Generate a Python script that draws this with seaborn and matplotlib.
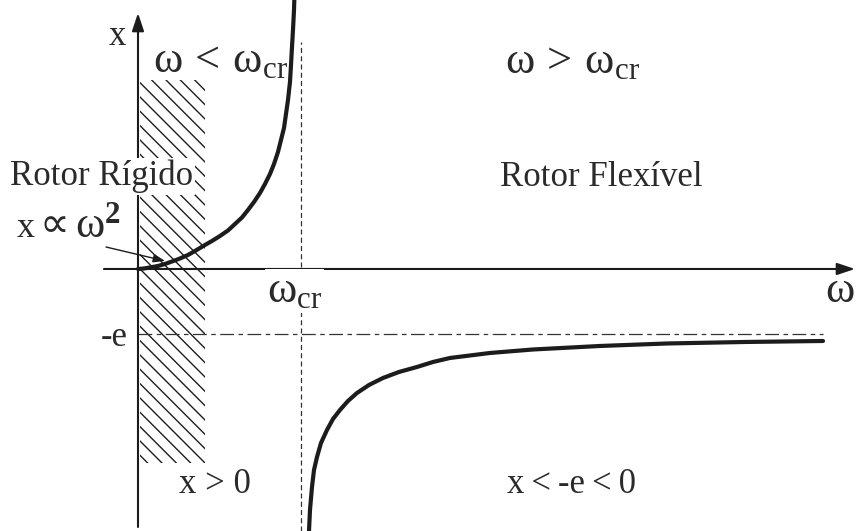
import matplotlib
matplotlib.use("Agg")
import matplotlib.pyplot as plt
import seaborn as sns
from matplotlib.patches import Rectangle

# Rotor response x (in units of e) against speed ratio w / w_cr
w_sub = [0.0, 0.0368, 0.0736, 0.1227, 0.1656, 0.2086, 0.2577, 0.3067,
         0.3497, 0.4110, 0.4540, 0.5031, 0.5521, 0.5951, 0.6380, 0.6748,
         0.7117, 0.7485, 0.7791, 0.8098, 0.8344, 0.8589, 0.8773, 0.8957,
         0.9080, 0.9202, 0.9325, 0.9387, 0.9448, 0.9509, 0.9571, 0.9601]
x_sub = [0.0, 0.0077, 0.0231, 0.0462, 0.0769, 0.1154, 0.1615, 0.2154,
         0.2769, 0.3692, 0.4308, 0.5077, 0.5923, 0.6923, 0.7923, 0.9077,
         1.0308, 1.1692, 1.3077, 1.4615, 1.6154, 1.8000, 1.9846, 2.1692,
         2.3846, 2.6000, 2.8769, 3.1385, 3.4154, 3.6769, 3.9846, 4.2154]

w_super = [1.0460, 1.0491, 1.0552, 1.0675, 1.0798, 1.0982, 1.1227, 1.1595,
           1.1963, 1.2393, 1.2883, 1.3436, 1.4172, 1.5031, 1.6012, 1.7117,
           1.8098, 1.9141, 2.1595, 2.4233, 2.8344, 3.2454, 3.7239, 4.2025]
x_super = [-4.1692, -4.0308, -3.7077, -3.3538, -3.0923, -2.8923, -2.6769,
           -2.4769, -2.3077, -2.1692, -2.0308, -1.9077, -1.7846, -1.6769,
           -1.5846, -1.5077, -1.4308, -1.3692, -1.2923, -1.2385, -1.1846,
           -1.1462, -1.1231, -1.1077]

W_CR = 1.0          # critical speed
E = 1.0             # eccentricity
RIGID_RANGE = (0.012, 0.411)   # speed band shaded as rigid rotor
RIGID_X = (-2.985, 2.908)

DPI = 86
K = 100 / DPI       # keeps sizes in pixels independent of the dpi

sns.set_theme(style="white")
plt.rcParams["font.family"] = ["Liberation Serif", "DejaVu Serif"]
plt.rcParams["mathtext.fontset"] = "custom"
plt.rcParams["mathtext.rm"] = "Liberation Serif"
plt.rcParams["mathtext.it"] = "Liberation Serif"
plt.rcParams["mathtext.bf"] = "Liberation Serif:bold"
plt.rcParams["hatch.linewidth"] = 1.0 * K

INK = "#1c1c1c"
TXT = "#2a2a2a"

fig = plt.figure(figsize=(856 / DPI, 531 / DPI), dpi=DPI)
ax = fig.add_axes([0, 0, 1, 1])
ax.set_xlim(-0.8466, 4.405)
ax.set_ylim(-4.031, 4.138)
ax.axis("off")

# shaded rigid-rotor band
ax.add_patch(Rectangle((RIGID_RANGE[0], RIGID_X[0]),
                       RIGID_RANGE[1] - RIGID_RANGE[0], RIGID_X[1] - RIGID_X[0],
                       fill=False, hatch="\\\\", edgecolor="#1e1e1e",
                       linewidth=0, zorder=1))

# coordinate axes with arrow heads
arrow = dict(arrowstyle="-|>,head_length=0.6,head_width=0.2", lw=1.5 * K,
             color=INK, mutation_scale=18 * K, shrinkA=0, shrinkB=0)
ax.annotate("", xy=(4.399, 0), xytext=(-0.209, 0), arrowprops=arrow, zorder=3)
ax.annotate("", xy=(0, 3.938), xytext=(0, -3.969), arrowprops=arrow, zorder=3)

# critical speed and -e asymptote
ax.axvline(W_CR, ymax=0.921, color="#333333", lw=0.9 * K, ls=(0, (4.0, 2.6)),
           zorder=2)
ax.hlines(-E, 0, w_super[-1], color="#333333", lw=0.9 * K,
          linestyles=[(0, (11, 3.6, 3.6, 3.6))], zorder=2)

# response branches
sns.lineplot(x=w_sub, y=x_sub, ax=ax, color=INK, lw=3.0 * K, sort=False,
             zorder=4, legend=False)
sns.lineplot(x=w_super, y=x_super, ax=ax, color=INK, lw=3.0 * K, sort=False,
             zorder=4, legend=False)

T = ax.transAxes
white = dict(facecolor="white", edgecolor="none", pad=1.5)
F_TXT = 25 * K
F_SYM = 32 * K

ax.text(0.1367, 0.932, "x", transform=T, fontsize=F_TXT, color=TXT,
        ha="center", va="center")
ax.text(0.1787, 0.8644, r"$\mathrm{ω\,<\,ω_{cr}}$", transform=T,
        fontsize=F_SYM, color=TXT, ha="left", va="baseline")
ax.text(0.590, 0.8625, r"$\mathrm{ω\,>\,ω_{cr}}$", transform=T,
        fontsize=F_SYM, color=TXT, ha="left", va="baseline")
ax.text(0.0117, 0.6516, "Rotor Rígido", transform=T, fontsize=F_TXT,
        color=TXT, ha="left", va="baseline", bbox=white, zorder=5)
ax.text(0.584, 0.650, "Rotor Flexível", transform=T, fontsize=F_TXT,
        color=TXT, ha="left", va="baseline")

# x proportional to w squared, pointing at the curve near the origin
ax.text(0.0199, 0.5537, "x", transform=T, fontsize=26 * K, color=TXT,
        ha="left", va="baseline", zorder=5)
ax.text(0.0467, 0.5537, "∝", transform=T, fontsize=30 * K, color=TXT,
        family=["DejaVu Sans"], ha="left", va="baseline", zorder=5)
ax.text(0.0876, 0.5537, r"$\mathrm{ω}^{\mathbf{2}}$", transform=T,
        fontsize=F_SYM, color=TXT, ha="left", va="baseline", zorder=5)
ax.annotate("", xy=(0.166, 0.123), xytext=(-0.196, 0.338),
            arrowprops=dict(arrowstyle="-|>,head_length=0.5,head_width=0.18",
                            lw=1.0 * K, color=INK, mutation_scale=14 * K,
                            shrinkA=0, shrinkB=0), zorder=5)

ax.text(0.312, 0.431, r"$\mathrm{ω_{cr}}$", transform=T, fontsize=F_SYM,
        color=TXT, ha="left", va="baseline", bbox=white, zorder=5)
ax.text(0.9638, 0.431, r"$\mathrm{ω}$", transform=T, fontsize=F_SYM,
        color=TXT, ha="left", va="baseline")
ax.text(0.1495, 0.349, "-e", transform=T, fontsize=F_TXT, color=TXT,
        ha="right", va="baseline")
ax.text(0.209, 0.0716, "x > 0", transform=T, fontsize=F_TXT, color=TXT,
        ha="left", va="baseline")
ax.text(0.592, 0.0716, "x\u2009<\u2009-e\u2009<\u20090", transform=T,
        fontsize=F_TXT, color=TXT, ha="left", va="baseline")

fig.savefig("out.png", dpi=DPI, facecolor="white")
